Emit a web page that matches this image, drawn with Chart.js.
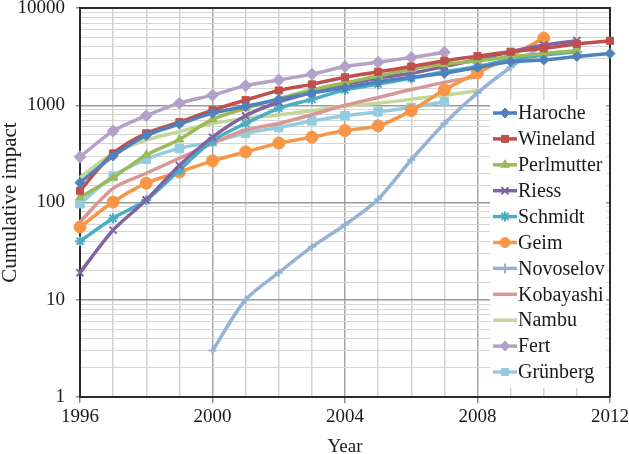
<!DOCTYPE html>
<html>
<head>
<meta charset="utf-8">
<script src="https://cdn.jsdelivr.net/npm/chart.js@4.4.1/dist/chart.umd.min.js"></script>
<style>
  body { margin: 0; background: #fff; }
</style>
</head>
<body>
<canvas id="impact" width="629" height="454"></canvas>
<script>
  const years = [1996, 1997, 1998, 1999, 2000, 2001, 2002, 2003, 2004, 2005, 2006, 2007, 2008, 2009, 2010, 2011, 2012];
  const yTicks = [1, 10, 100, 1000, 10000];

  const haroche    = [160, 300, 490, 640, 830, 970, 1150, 1340, 1510, 1740, 1940, 2130, 2450, 2800, 2920, 3170, 3400];
  const wineland   = [132, 320, 515, 670, 890, 1130, 1420, 1640, 1940, 2210, 2500, 2870, 3200, 3550, 3850, 4260, 4600];
  const perlmutter = [113, 180, 308, 445, 716, 930, 1170, 1440, 1700, 2000, 2350, 2650, 2850, 3150, 3400, 3640, null];
  const riess      = [19, 52, 106, 240, 470, 780, 1080, 1350, 1620, 1900, 2130, 2500, 2960, 3550, 4170, 4620, null];
  const schmidt    = [40, 69, 106, 215, 430, 650, 930, 1150, 1440, 1650, 1900, 2210, 2500, 2960, 3280, 3550, null];
  const geim       = [56, 101, 158, 206, 268, 331, 408, 470, 550, 613, 880, 1440, 2160, 3200, 4900, null, null];
  const novoselov  = [null, null, null, null, 3, 10, 19, 35, 59, 108, 275, 650, 1340, 2460, 4200, null, null];
  const kobayashi  = [63, 140, 200, 285, 405, 556, 650, 800, 1000, 1200, 1450, 1720, 1970, null, null, null, null];
  const nambu      = [181, 320, 438, 535, 650, 733, 795, 880, 980, 1050, 1150, 1270, 1410, null, null, null, null];
  const fert       = [295, 543, 780, 1050, 1270, 1590, 1820, 2090, 2500, 2770, 3100, 3500, null, null, null, null, null];
  const grunberg   = [97, 187, 278, 360, 420, 515, 590, 690, 780, 855, 950, 1090, null, null, null, null, null];

  function series(label, data, color, style, radius) {
    return {
      label: label,
      data: data,
      borderColor: color,
      backgroundColor: color,
      borderWidth: 3.5,
      pointStyle: style,
      pointRadius: style ? radius : 0,
      pointBorderWidth: style === 'crossRot' || style === 'star' || style === 'cross' ? 2 : 1,
      pointBorderColor: color,
      pointBackgroundColor: color,
      tension: 0.3,
      spanGaps: false
    };
  }

  const isPow10 = v => yTicks.indexOf(v) !== -1;

  // frame on top and right side of plot
  const frame = {
    id: 'frame',
    beforeDatasetsDraw(chart) {
      const a = chart.chartArea, ctx = chart.ctx;
      ctx.save();
      ctx.strokeStyle = '#2b2b2b';
      ctx.lineWidth = 2;
      ctx.beginPath();
      ctx.moveTo(a.left, a.top);
      ctx.lineTo(a.right, a.top);
      ctx.lineTo(a.right, a.bottom);
      ctx.stroke();
      ctx.restore();
    }
  };

  // legend inside plot area, right side
  const legendBox = {
    id: 'legendBox',
    afterDraw(chart) {
      const ctx = chart.ctx;
      const x0 = chart.chartArea.right - 120, y0 = 100;
      ctx.save();
      ctx.fillStyle = '#fff';
      ctx.fillRect(x0, y0, 116, 288);
      ctx.font = "20px 'Liberation Serif', serif";
      ctx.textBaseline = 'middle';
      chart.data.datasets.forEach((ds, i) => {
        const y = y0 + 13 + i * 25.9;
        ctx.strokeStyle = ds.borderColor;
        ctx.lineWidth = 3.5;
        ctx.beginPath();
        ctx.moveTo(x0 + 3, y);
        ctx.lineTo(x0 + 27, y);
        ctx.stroke();
        if (ds.pointRadius > 0) {
          ctx.fillStyle = ds.pointBackgroundColor;
          ctx.strokeStyle = ds.pointBorderColor;
          ctx.lineWidth = ds.pointBorderWidth;
          Chart.helpers.drawPoint(ctx, {pointStyle: ds.pointStyle, radius: 5, rotation: 0, borderWidth: ds.pointBorderWidth}, x0 + 15, y);
        }
        ctx.fillStyle = '#1a1a1a';
        ctx.fillText(ds.label, x0 + 28, y + 1);
      });
      ctx.restore();
    }
  };

  Chart.defaults.font.family = "'Liberation Serif', serif";
  Chart.defaults.font.size = 19;
  Chart.defaults.color = '#1a1a1a';

  new Chart(document.getElementById('impact'), {
    type: 'line',
    data: {
      labels: years,
      datasets: [
        series('Haroche', haroche, '#4f81bd', 'rectRot', 5),
        series('Wineland', wineland, '#c0504d', 'rect', 5),
        series('Perlmutter', perlmutter, '#9bbb59', 'triangle', 5),
        series('Riess', riess, '#8064a2', 'crossRot', 5),
        series('Schmidt', schmidt, '#4bacc6', 'star', 5),
        series('Geim', geim, '#f79646', 'circle', 6),
        series('Novoselov', novoselov, '#95b3d7', 'cross', 4),
        series('Kobayashi', kobayashi, '#d99694', false, 0),
        series('Nambu', nambu, '#c3d69b', false, 0),
        series('Fert', fert, '#b3a2c7', 'rectRot', 6),
        series('Grünberg', grunberg, '#93cddd', 'rect', 6)
      ]
    },
    options: {
      responsive: false,
      animation: false,
      layout: { padding: { top: 8, right: 19, bottom: 0, left: 0 } },
      plugins: {
        legend: { display: false },
        tooltip: { enabled: false }
      },
      scales: {
        x: {
          type: 'category',
          offset: false,
          afterFit: s => { s.height = 57; s.paddingLeft = 0; s.paddingRight = 0; },
          border: { color: '#2b2b2b', width: 2 },
          grid: {
            offset: false,
            lineWidth: 1.5,
            tickLength: 6,
            color: c => (years[c.index] % 4 === 0 ? '#a6a6a6' : '#d2d2d2'),
            tickColor: c => (years[c.index] % 4 === 0 ? '#8c8c8c' : 'rgba(0,0,0,0)')
          },
          ticks: {
            autoSkip: false,
            maxRotation: 0,
            padding: 3,
            callback: (v, i) => (years[i] % 4 === 0 ? String(years[i]) : '')
          },
          title: {
            display: true,
            text: 'Year',
            font: { size: 19, lineHeight: 1 },
            padding: { top: 0, bottom: -3 }
          }
        },
        y: {
          type: 'logarithmic',
          min: 1,
          max: 10000,
          afterFit: s => { s.width = 80; s.paddingTop = 0; s.paddingBottom = 0; },
          border: { color: '#2b2b2b', width: 2 },
          grid: {
            tickLength: 4,
            color: c => (c.tick && isPow10(c.tick.value) ? '#9a9a9a' : '#d6d6d6'),
            lineWidth: c => (c.tick && isPow10(c.tick.value) ? 1.5 : 1),
            tickColor: c => (c.tick && isPow10(c.tick.value) ? '#8c8c8c' : 'rgba(0,0,0,0)')
          },
          ticks: {
            autoSkip: false,
            padding: 11,
            callback: v => (isPow10(v) ? String(v) : '')
          },
          title: {
            display: true,
            text: 'Cumulative impact',
            font: { size: 21, lineHeight: 1 },
            padding: 0
          }
        }
      }
    },
    plugins: [frame, legendBox]
  });
</script>
</body>
</html>
